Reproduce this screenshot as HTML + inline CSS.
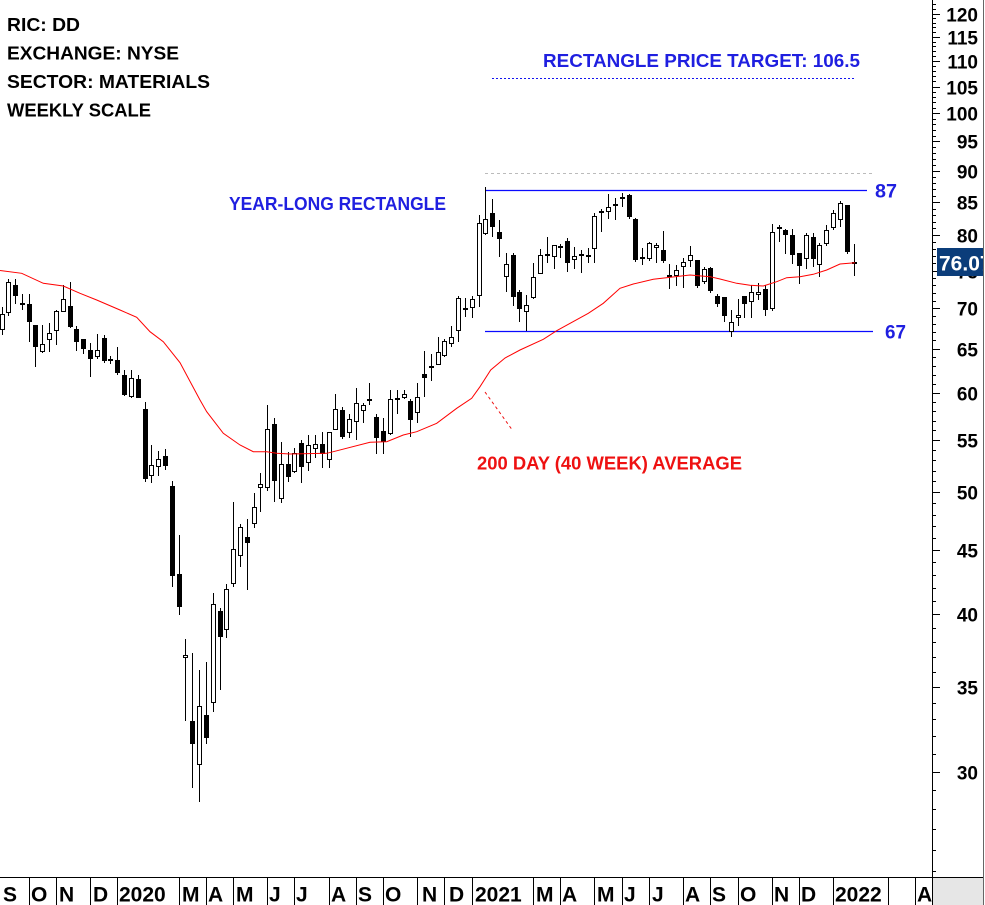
<!DOCTYPE html>
<html><head><meta charset="utf-8"><style>
html,body{margin:0;padding:0;background:#fff;}
svg{display:block;}
text{font-family:"Liberation Sans",sans-serif;font-weight:bold;}
</style></head><body>
<svg width="985" height="905" viewBox="0 0 985 905" xmlns="http://www.w3.org/2000/svg">
<rect x="0" y="0" width="985" height="905" fill="#fff"/>

<!-- top-left info -->
<g font-size="18" fill="#000">
<text x="7" y="31" textLength="73" lengthAdjust="spacingAndGlyphs">RIC: DD</text>
<text x="7" y="59.5" textLength="172" lengthAdjust="spacingAndGlyphs">EXCHANGE: NYSE</text>
<text x="7" y="88" textLength="203" lengthAdjust="spacingAndGlyphs">SECTOR: MATERIALS</text>
<text x="7" y="116.5" textLength="144" lengthAdjust="spacingAndGlyphs">WEEKLY SCALE</text>
</g>

<!-- annotation lines -->
<line x1="492" y1="78.5" x2="855" y2="78.5" stroke="#1414f0" stroke-width="1" stroke-dasharray="2 2"/>
<line x1="485" y1="173.5" x2="872" y2="173.5" stroke="#bbbbbb" stroke-width="1" stroke-dasharray="3 3"/>
<line x1="485" y1="190.5" x2="867" y2="190.5" stroke="#0a0aff" stroke-width="1.2"/>
<line x1="485" y1="331.5" x2="873" y2="331.5" stroke="#0a0aff" stroke-width="1.2"/>
<line x1="485" y1="392" x2="513" y2="431" stroke="#ee1111" stroke-width="1" stroke-dasharray="3 3"/>

<g fill="#1f1fe0" font-size="18">
<text x="543" y="67" textLength="317" lengthAdjust="spacingAndGlyphs">RECTANGLE PRICE TARGET: 106.5</text>
<text x="229" y="210" textLength="217" lengthAdjust="spacingAndGlyphs">YEAR-LONG RECTANGLE</text>
<text x="875" y="197.5" font-size="19" textLength="22" lengthAdjust="spacingAndGlyphs">87</text>
<text x="885" y="338.5" font-size="19" textLength="21" lengthAdjust="spacingAndGlyphs">67</text>
</g>
<text x="477" y="469.3" fill="#ee1111" font-size="18" textLength="265" lengthAdjust="spacingAndGlyphs">200 DAY (40 WEEK) AVERAGE</text>

<!-- wicks -->
<path fill="none" stroke="#000" stroke-width="1" d="M2.5 307V335M8.5 279V316M15.5 279V304M22.5 294V310M29.5 294V342M35.5 325V367M42.5 325V353M49.5 323V352M56.5 310V345M63.5 285V312M70.5 282V328M76.5 326V351M83.5 339V354M90.5 343V377M97.5 334V359M104.5 335V363M110.5 356V364M117.5 347V375M124.5 370V396M131.5 370V398M138.5 375V398M145.5 402V482M151.5 445V483M158.5 451V476M165.5 449V470M172.5 481V587M179.5 535V615M185.5 639V721M192.5 653V788M199.5 670V802M206.5 662V744M213.5 593V712M220.5 608V690M226.5 584V638M233.5 502V587M240.5 524V567M247.5 519V590M254.5 493V528M260.5 473V512M267.5 405V491M274.5 418V502M281.5 442V503M288.5 452V482M294.5 448V473M301.5 440V483M308.5 435V471M315.5 435V458M322.5 432V468M329.5 432V468M335.5 394V430M342.5 407V439M349.5 414V438M356.5 388V440M363.5 403V423M369.5 383V405M376.5 414V454M383.5 418V454M390.5 390V435M397.5 390V414M404.5 390V399M410.5 399V437M417.5 383V423M424.5 351V397M431.5 354V381M438.5 337V365M444.5 339V357M451.5 326V347M458.5 296V342M465.5 298V317M472.5 296V318M479.5 215V307M485.5 187V235M492.5 199V237M499.5 220V257M506.5 253V292M513.5 253V306M519.5 290V322M526.5 295V331M533.5 263V299M540.5 249V274M547.5 237V263M554.5 245V269M560.5 244V258M567.5 238V272M574.5 247V269M581.5 250V273M588.5 248V263M594.5 213V263M601.5 209V232M608.5 194V219M615.5 198V220M622.5 193V207M629.5 194V219M635.5 218V262M642.5 248V265M649.5 242V261M656.5 243V263M663.5 231V263M669.5 264V289M676.5 265V286M683.5 258V288M690.5 246V267M697.5 260V288M704.5 267V284M710.5 267V293M717.5 294V307M724.5 297V322M731.5 310V337M738.5 299V326M744.5 296V318M751.5 285V318M758.5 283V300M765.5 285V316M772.5 224V311M779.5 225V242M785.5 229V254M792.5 229V264M799.5 253V284M806.5 233V269M813.5 233V267M819.5 243V277M826.5 225V246M833.5 210V230M840.5 201V227M847.5 205V254M854.5 244V276"/>

<!-- hollow bodies -->
<path fill="#fff" stroke="#000" stroke-width="1" d="M0.5 314.5h4v15h-4zM6.5 282.5h4v30h-4zM40.5 344.5h4v7h-4zM47.5 333.5h4v6h-4zM54.5 311.5h4v19h-4zM61.5 299.5h4v12h-4zM95.5 350.5h4v6h-4zM129.5 378.5h4v18h-4zM149.5 465.5h4v10h-4zM156.5 459.5h4v7h-4zM183.5 655.5h4v2h-4zM197.5 706.5h4v58h-4zM211.5 604.5h4v98h-4zM224.5 589.5h4v40h-4zM231.5 549.5h4v34h-4zM238.5 527.5h4v28h-4zM252.5 507.5h4v16h-4zM258.5 484.5h4v3h-4zM265.5 429.5h4v58h-4zM279.5 464.5h4v34h-4zM292.5 453.5h4v18h-4zM306.5 445.5h4v17h-4zM313.5 444.5h4v4h-4zM327.5 432.5h4v27h-4zM333.5 409.5h4v20h-4zM347.5 419.5h4v13h-4zM354.5 403.5h4v18h-4zM361.5 405.5h4v5h-4zM388.5 399.5h4v34h-4zM402.5 394.5h4v3h-4zM415.5 397.5h4v15h-4zM436.5 352.5h4v12h-4zM442.5 341.5h4v14h-4zM449.5 337.5h4v6h-4zM456.5 298.5h4v32h-4zM470.5 299.5h4v8h-4zM477.5 223.5h4v72h-4zM483.5 219.5h4v14h-4zM504.5 264.5h4v12h-4zM524.5 305.5h4v6h-4zM531.5 277.5h4v20h-4zM538.5 255.5h4v18h-4zM552.5 245.5h4v11h-4zM572.5 256.5h4v3h-4zM592.5 216.5h4v32h-4zM606.5 207.5h4v4h-4zM647.5 243.5h4v15h-4zM654.5 245.5h4v2h-4zM674.5 270.5h4v5h-4zM681.5 262.5h4v4h-4zM688.5 255.5h4v5h-4zM702.5 269.5h4v12h-4zM729.5 322.5h4v9h-4zM736.5 315.5h4v2h-4zM749.5 292.5h4v9h-4zM756.5 292.5h4v2h-4zM770.5 232.5h4v76h-4zM804.5 235.5h4v23h-4zM817.5 245.5h4v19h-4zM824.5 230.5h4v13h-4zM831.5 213.5h4v14h-4zM838.5 203.5h4v16h-4z"/>

<!-- filled bodies -->
<path fill="#000" d="M13 285h5v11h-5zM20 303h5v2h-5zM27 304h5v18h-5zM33 325h5v22h-5zM68 306h5v21h-5zM74 329h5v13h-5zM81 339h5v10h-5zM88 350h5v9h-5zM102 338h5v23h-5zM108 359h5v2h-5zM115 360h5v13h-5zM122 375h5v20h-5zM136 379h5v19h-5zM143 409h5v70h-5zM163 456h5v10h-5zM170 486h5v90h-5zM177 574h5v33h-5zM190 721h5v23h-5zM204 715h5v23h-5zM218 611h5v26h-5zM245 537h5v6h-5zM272 424h5v57h-5zM286 464h5v13h-5zM299 443h5v24h-5zM320 444h5v10h-5zM340 410h5v27h-5zM367 399h5v2h-5zM374 417h5v21h-5zM381 431h5v11h-5zM395 398h5v2h-5zM408 401h5v19h-5zM422 374h5v4h-5zM429 366h5v2h-5zM463 308h5v2h-5zM490 213h5v14h-5zM497 232h5v7h-5zM511 255h5v42h-5zM517 292h5v17h-5zM545 254h5v2h-5zM558 246h5v2h-5zM565 241h5v22h-5zM579 254h5v2h-5zM586 255h5v2h-5zM599 211h5v2h-5zM613 204h5v2h-5zM620 197h5v2h-5zM627 195h5v22h-5zM633 219h5v41h-5zM640 257h5v2h-5zM661 250h5v11h-5zM667 275h5v2h-5zM695 260h5v26h-5zM708 268h5v23h-5zM715 296h5v8h-5zM722 297h5v19h-5zM742 296h5v8h-5zM763 289h5v21h-5zM777 227h5v2h-5zM783 230h5v5h-5zM790 235h5v20h-5zM797 253h5v13h-5zM811 237h5v22h-5zM845 205h5v47h-5zM852 262h5v2h-5z"/>

<!-- moving average -->
<polyline fill="none" stroke="#ff0000" stroke-width="1" points="0,270.5 21.7,273.3 43.3,283.3 63.3,286 80,293.3 96.7,300 120,310 136.7,317.3 150,331.7 163.3,341.7 180,362.7 200,400 206.7,411.7 223.3,433.3 240,445 253.3,451.7 266.7,451.7 276.7,453.3 290,454 326.7,453.3 333.3,451.7 370,442.3 386.7,441.7 403.3,435 416.7,431.7 436.7,423.3 456.7,408.3 471.7,398.3 480,386.7 490.7,370 505,358 520,350 543.3,339.3 556.7,330.7 588.3,313.3 603.3,303.3 620,288.3 633.3,284 653.3,279.3 690,275 710,276.7 720,279 736.7,283.3 750,285.3 763.3,286 776.7,281.7 786.7,277.7 800,276.7 813.3,274.3 826.7,270 840,264 855,262.7"/>

<!-- right axis -->
<line x1="932.5" y1="0" x2="932.5" y2="905" stroke="#000" stroke-width="1"/>
<line x1="983.5" y1="0" x2="983.5" y2="905" stroke="#666" stroke-width="1"/>
<path fill="none" stroke="#000" stroke-width="1" d="M932 871.5h4M932 850.5h4M932 829.5h4M932 809.5h4M932 790.5h4M932 754.5h4M932 736.5h4M932 719.5h4M932 703.5h4M932 672.5h4M932 657.5h4M932 642.5h4M932 628.5h4M932 601.5h4M932 588.5h4M932 575.5h4M932 562.5h4M932 538.5h4M932 526.5h4M932 515.5h4M932 503.5h4M932 481.5h4M932 471.5h4M932 460.5h4M932 450.5h4M932 430.5h4M932 421.5h4M932 411.5h4M932 402.5h4M932 384.5h4M932 375.5h4M932 366.5h4M932 357.5h4M932 340.5h4M932 332.5h4M932 324.5h4M932 316.5h4M932 301.5h4M932 293.5h4M932 285.5h4M932 278.5h4M932 263.5h4M932 256.5h4M932 249.5h4M932 242.5h4M932 228.5h4M932 222.5h4M932 215.5h4M932 209.5h4M932 196.5h4M932 189.5h4M932 183.5h4M932 177.5h4M932 165.5h4M932 159.5h4M932 153.5h4M932 147.5h4M932 136.5h4M932 130.5h4M932 124.5h4M932 119.5h4M932 108.5h4M932 102.5h4M932 97.5h4M932 92.5h4M932 81.5h4M932 76.5h4M932 71.5h4M932 66.5h4M932 56.5h4M932 51.5h4M932 46.5h4M932 42.5h4M932 32.5h4M932 27.5h4M932 23.5h4M932 18.5h4M932 9.5h4M932 4.5h4"/>
<path fill="none" stroke="#000" stroke-width="1" d="M932 772.5h8M932 687.5h8M932 614.5h8M932 550.5h8M932 492.5h8M932 440.5h8M932 393.5h8M932 349.5h8M932 308.5h8M932 271.5h8M932 235.5h8M932 202.5h8M932 171.5h8M932 141.5h8M932 113.5h8M932 87.5h8M932 61.5h8M932 37.5h8M932 14.5h8"/>
<g font-size="19" fill="#000" text-anchor="end">
<text x="978" y="21.5">120</text>
<text x="978" y="44.5">115</text>
<text x="978" y="68.5">110</text>
<text x="978" y="94.5">105</text>
<text x="978" y="120.5">100</text>
<text x="978" y="148.5">95</text>
<text x="978" y="178.5">90</text>
<text x="978" y="209.5">85</text>
<text x="978" y="242.5">80</text>
<text x="978" y="278.5">75</text>
<text x="978" y="315.5">70</text>
<text x="978" y="356.5">65</text>
<text x="978" y="400.5">60</text>
<text x="978" y="447.5">55</text>
<text x="978" y="499.5">50</text>
<text x="978" y="557.5">45</text>
<text x="978" y="621.5">40</text>
<text x="978" y="694.5">35</text>
<text x="978" y="779.5">30</text>
</g>
<rect x="937" y="248" width="46" height="28" fill="#0b3d7a"/>
<svg x="937" y="248" width="46" height="28" overflow="hidden">
<text x="2" y="22.5" font-size="21" fill="#fff">76.07</text>
</svg>

<!-- bottom axis -->
<rect x="933" y="878" width="50" height="27" fill="#e6e6e6"/>
<line x1="0" y1="877.5" x2="983" y2="877.5" stroke="#000" stroke-width="1"/>
<path fill="none" stroke="#000" stroke-width="1" d="M29.5 877V905M56.5 877V905M90.5 877V905M117.5 877V905M179.5 877V905M206.5 877V905M233.5 877V905M267.5 877V905M294.5 877V905M329.5 877V905M356.5 877V905M383.5 877V905M417.5 877V905M444.5 877V905M472.5 877V905M533.5 877V905M560.5 877V905M594.5 877V905M622.5 877V905M649.5 877V905M683.5 877V905M710.5 877V905M738.5 877V905M772.5 877V905M799.5 877V905M833.5 877V905M888.5 877V905M915.5 877V905"/>
<g font-size="21" fill="#000">
<text x="3" y="901.5">S</text>
<text x="31" y="901.5">O</text>
<text x="59" y="901.5">N</text>
<text x="93" y="901.5">D</text>
<text x="119" y="901.5">2020</text>
<text x="182" y="901.5">M</text>
<text x="208" y="901.5">A</text>
<text x="236" y="901.5">M</text>
<text x="269" y="901.5">J</text>
<text x="296" y="901.5">J</text>
<text x="331" y="901.5">A</text>
<text x="358" y="901.5">S</text>
<text x="385" y="901.5">O</text>
<text x="422" y="901.5">N</text>
<text x="449" y="901.5">D</text>
<text x="475" y="901.5">2021</text>
<text x="536" y="901.5">M</text>
<text x="562" y="901.5">A</text>
<text x="597" y="901.5">M</text>
<text x="624" y="901.5">J</text>
<text x="652" y="901.5">J</text>
<text x="685" y="901.5">A</text>
<text x="712" y="901.5">S</text>
<text x="740" y="901.5">O</text>
<text x="774" y="901.5">N</text>
<text x="801" y="901.5">D</text>
<text x="835" y="901.5">2022</text>
<text x="917" y="901.5">A</text>
</g>
</svg>
</body></html>
